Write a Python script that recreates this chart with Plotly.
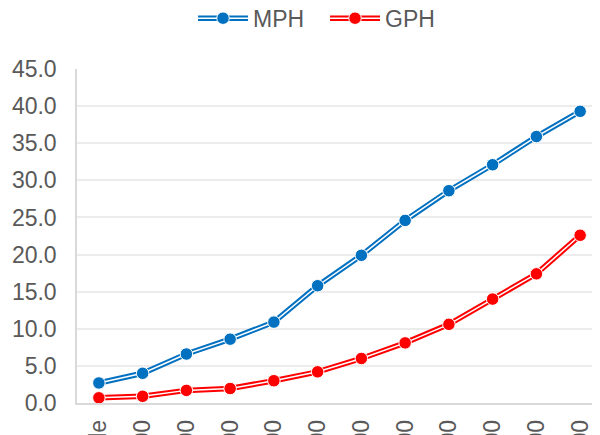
import plotly.graph_objects as go

categories = ["Idle", "1000", "1500", "2000", "2500", "3000", "3500", "4000", "4500", "5000", "5500", "6000"]
mph = [2.7, 4.0, 6.6, 8.6, 10.9, 15.8, 19.9, 24.6, 28.6, 32.1, 35.9, 39.3]
gph = [0.7, 0.9, 1.7, 1.95, 3.0, 4.2, 6.0, 8.1, 10.6, 14.0, 17.4, 22.6]
y_ticks = [0, 5, 10, 15, 20, 25, 30, 35, 40, 45]
y_tick_text = [f"{v:.1f}" for v in y_ticks]

series = [("MPH", mph, "#0070C0"), ("GPH", gph, "#FF0000")]

fig = go.Figure()
for name, vals, col in series:
    # outer coloured stroke of the double line
    fig.add_trace(go.Scatter(
        x=categories, y=vals, name=name, mode="lines",
        line=dict(color=col, width=5.5),
        legend="legend", legendgroup=name, hoverinfo="skip",
    ))
    # white centre stroke + markers on top
    fig.add_trace(go.Scatter(
        x=categories, y=vals, name=name, mode="lines+markers",
        line=dict(color="white", width=1.5),
        marker=dict(color=col, size=12.5, line=dict(color="white", width=1)),
        legend="legend2", legendgroup=name + "_c",
    ))

leg_common = dict(orientation="h", x=0.221, xanchor="left", y=1.152, yanchor="middle",
                  itemwidth=50, entrywidth=67, entrywidthmode="pixels",
                  bgcolor="rgba(0,0,0,0)", traceorder="normal")

fig.update_layout(
    width=600, height=435,
    margin=dict(l=69, r=6, t=61, b=39.5, autoexpand=False),
    paper_bgcolor="white", plot_bgcolor="white",
    font=dict(family="Liberation Sans, Arial, sans-serif", size=23, color="#595959"),
    showlegend=True,
    legend=dict(**leg_common, font=dict(size=23, color="#595959")),
    legend2=dict(**leg_common, font=dict(size=23, color="rgba(0,0,0,0)")),
    xaxis=dict(type="category", range=[-0.5, 11.5], tickangle=-90,
               showgrid=False, showline=True, linecolor="#d9d9d9", linewidth=1.5,
               ticks="", ticklabelstandoff=6, automargin=False,
               tickfont=dict(size=23, color="#595959")),
    yaxis=dict(range=[0, 45], tickvals=y_ticks, ticktext=y_tick_text,
               showgrid=True, gridcolor="#ececec", gridwidth=1.5,
               showline=True, linecolor="#d9d9d9", linewidth=1.5,
               zeroline=False, ticks="", ticklabelstandoff=14, automargin=False,
               tickfont=dict(size=23, color="#595959")),
)

fig.write_html("out.html")
